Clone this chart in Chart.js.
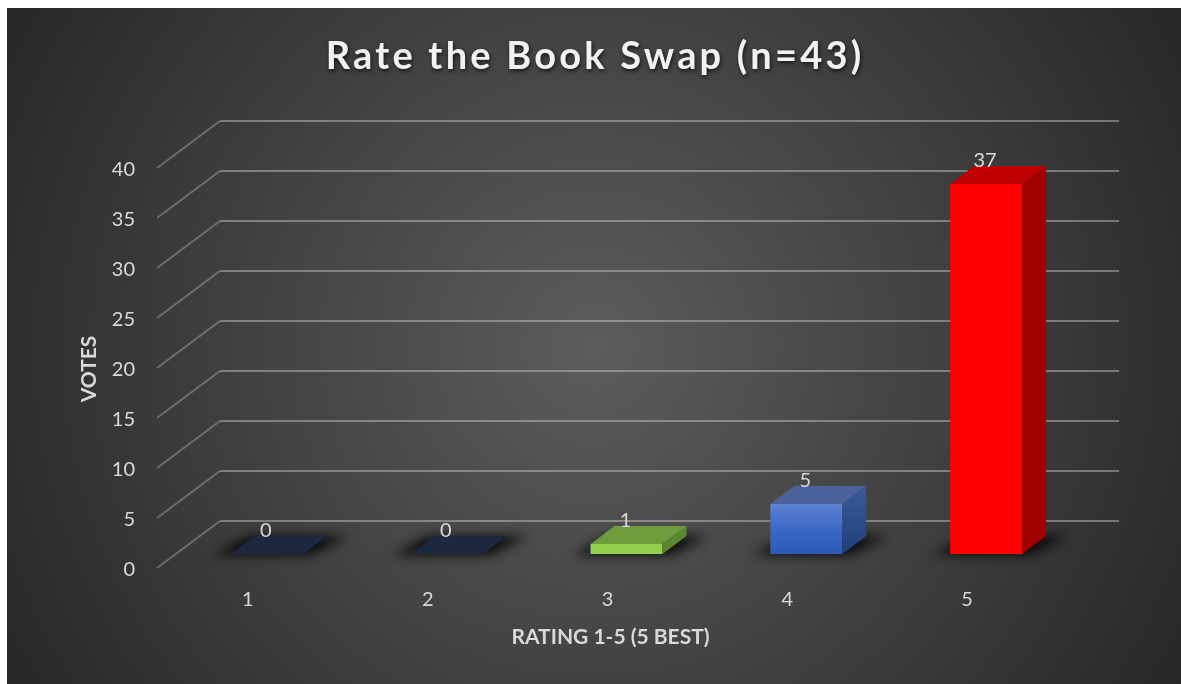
<!DOCTYPE html>
<html>
<head>
<meta charset="utf-8">
<style>
  html, body { margin: 0; padding: 0; background: #fff; overflow: hidden; }
  canvas { display: block; }
</style>
<script src="https://cdn.jsdelivr.net/npm/chart.js@4"></script>
</head>
<body>
<canvas id="myChart" width="1181" height="684"></canvas>
<script>
const categories = ['1', '2', '3', '4', '5'];
const votes = [0, 0, 1, 5, 37];
const yMax = 40;
const yStep = 5;
const chartTitle = 'Rate the Book Swap (n=43)';
const xAxisTitle = 'RATING 1-5 (5 BEST)';
const yAxisTitle = 'VOTES';

const frontColors = ['#1c2740', '#1c2740', '#92d050', ['#5f82d4', '#3b68c6', '#2c5ab6'], '#ff0000'];
const topColors = ['#1c2740', '#1c2740', '#6f9c3c', '#4a6299', '#c00000'];
const sideColors = ['#1c2740', '#1c2740', '#5c8632', ['#3a5a98', '#2c4c8a', '#1f3f7c'], '#a00000'];

const textColor = '#d9d9d9';
const barDepth = { x: 24, y: -18 };
const gridFront = { x: -20, y: 14 };
const gridBack = { x: 43, y: -33 };

function poly(ctx, pts) {
    ctx.beginPath();
    pts.forEach((p, i) => i ? ctx.lineTo(p[0], p[1]) : ctx.moveTo(p[0], p[1]));
    ctx.closePath();
}

// a colour entry is either a plain colour or a list of stops running down the bar
function paint(ctx, color, top, bottom) {
    if (!Array.isArray(color)) return color;
    const g = ctx.createLinearGradient(0, top, 0, bottom);
    color.forEach((c, i) => g.addColorStop(i / (color.length - 1), c));
    return g;
}

function barFront(context) {
    const i = context.dataIndex;
    const { chart } = context;
    if (!chart.chartArea) return '#3a66c4';
    const y = chart.scales.y;
    return paint(chart.ctx, frontColors[i], y.getPixelForValue(votes[i]), y.getPixelForValue(0));
}

const backdrop = {
    id: 'backdrop',
    beforeDraw(chart) {
        const ctx = chart.ctx;
        const g = ctx.createRadialGradient(594, 346, 0, 594, 346, 680);
        g.addColorStop(0, '#5c5c5c');
        g.addColorStop(1, '#272727');
        ctx.save();
        ctx.fillStyle = g;
        ctx.fillRect(7, 8, chart.width - 7, chart.height - 8);
        ctx.restore();
    }
};

// floor shadows and the perspective grid go under the bars
const floor3d = {
    id: 'floor3d',
    beforeDatasetsDraw(chart) {
        const ctx = chart.ctx;
        const { left, right } = chart.chartArea;
        const y = chart.scales.y;
        ctx.save();
        ctx.lineWidth = 2;
        y.ticks.forEach(t => {
            const p = y.getPixelForValue(t.value);
            ctx.strokeStyle = 'rgba(217,217,217,0.32)';
            ctx.beginPath();
            ctx.moveTo(left + gridFront.x, p + gridFront.y);
            ctx.lineTo(left + gridBack.x, p + gridBack.y);
            ctx.stroke();
            ctx.strokeStyle = 'rgba(217,217,217,0.42)';
            ctx.beginPath();
            ctx.moveTo(left + gridBack.x, p + gridBack.y);
            ctx.lineTo(right + gridBack.x, p + gridBack.y);
            ctx.stroke();
        });
        ctx.filter = 'blur(6px)';
        ctx.fillStyle = 'rgba(0,0,0,0.85)';
        chart.getDatasetMeta(0).data.forEach(bar => {
            const l = bar.x - bar.width / 2, r = bar.x + bar.width / 2, b = bar.base;
            poly(ctx, [
                [l - 18, b + 1],
                [r + 8, b + 1],
                [r + barDepth.x + 22, b + barDepth.y],
                [l + barDepth.x - 6, b + barDepth.y]
            ]);
            ctx.fill();
        });
        ctx.restore();
    }
};

const bars3d = {
    id: 'bars3d',
    afterDatasetsDraw(chart) {
        const ctx = chart.ctx;
        const y = chart.scales.y;
        ctx.save();
        chart.getDatasetMeta(0).data.forEach((bar, i) => {
            const l = bar.x - bar.width / 2, r = bar.x + bar.width / 2;
            const t = bar.y, b = bar.base;
            const dx = barDepth.x, dy = barDepth.y;
            ctx.fillStyle = paint(ctx, sideColors[i], t + dy, b);
            poly(ctx, [[r, t], [r + dx, t + dy], [r + dx, b + dy], [r, b]]);
            ctx.fill();
            ctx.fillStyle = topColors[i];
            poly(ctx, [[l, t], [r, t], [r + dx, t + dy], [l + dx, t + dy]]);
            ctx.fill();
        });
        // value labels sit above the top face
        ctx.fillStyle = textColor;
        ctx.font = '20px Lato';
        ctx.textAlign = 'center';
        ctx.textBaseline = 'middle';
        chart.getDatasetMeta(0).data.forEach((bar, i) => {
            ctx.fillText(String(votes[i]), bar.x - 1, y.getPixelForValue(votes[i]) - 23);
        });
        ctx.restore();
    }
};

const titles = {
    id: 'titles',
    afterDraw(chart) {
        const ctx = chart.ctx;
        const { left, right } = chart.chartArea;
        ctx.save();
        ctx.textAlign = 'center';
        ctx.textBaseline = 'middle';
        ctx.fillStyle = textColor;
        ctx.font = 'bold 21px Lato';
        ctx.fillText(chart.options.scales.x.title.text, (left + right) / 2 - 16, 637);
        ctx.save();
        ctx.translate(89, 369);
        ctx.rotate(-Math.PI / 2);
        ctx.fillText(chart.options.scales.y.title.text, 0, 0);
        ctx.restore();
        ctx.shadowColor = 'rgba(0,0,0,0.7)';
        ctx.shadowBlur = 4;
        ctx.shadowOffsetX = 1;
        ctx.shadowOffsetY = 2;
        ctx.fillStyle = '#f2f2f2';
        ctx.font = 'bold 38px Lato';
        ctx.letterSpacing = '3.2px';
        ctx.fillText(chart.options.plugins.title.text, 595, 57);
        ctx.restore();
    }
};

new Chart(document.getElementById('myChart').getContext('2d'), {
    type: 'bar',
    data: {
        labels: categories,
        datasets: [{
            label: 'Votes',
            data: votes,
            backgroundColor: barFront,
            borderWidth: 0,
            categoryPercentage: 1,
            barPercentage: 0.4
        }]
    },
    options: {
        responsive: false,
        animation: false,
        layout: { padding: { top: 154, right: 105, left: 0, bottom: 0 } },
        plugins: {
            legend: { display: false },
            tooltip: { enabled: false },
            title: { display: false, text: chartTitle }
        },
        scales: {
            x: {
                title: { display: false, text: xAxisTitle },
                grid: { display: false, drawTicks: false },
                border: { display: false },
                afterFit: scale => { scale.height = 130; },
                ticks: {
                    color: textColor,
                    font: { family: 'Lato', size: 20 },
                    padding: 34,
                    labelOffset: -19,
                    maxRotation: 0
                }
            },
            y: {
                min: 0,
                max: yMax,
                title: { display: false, text: yAxisTitle },
                grid: { display: false, drawTicks: false },
                border: { display: false },
                afterFit: scale => { scale.width = 177; },
                ticks: {
                    stepSize: yStep,
                    color: textColor,
                    font: { family: 'Lato', size: 20 },
                    padding: 42,
                    labelOffset: 16
                }
            }
        }
    },
    plugins: [backdrop, floor3d, bars3d, titles]
});
</script>
</body>
</html>
